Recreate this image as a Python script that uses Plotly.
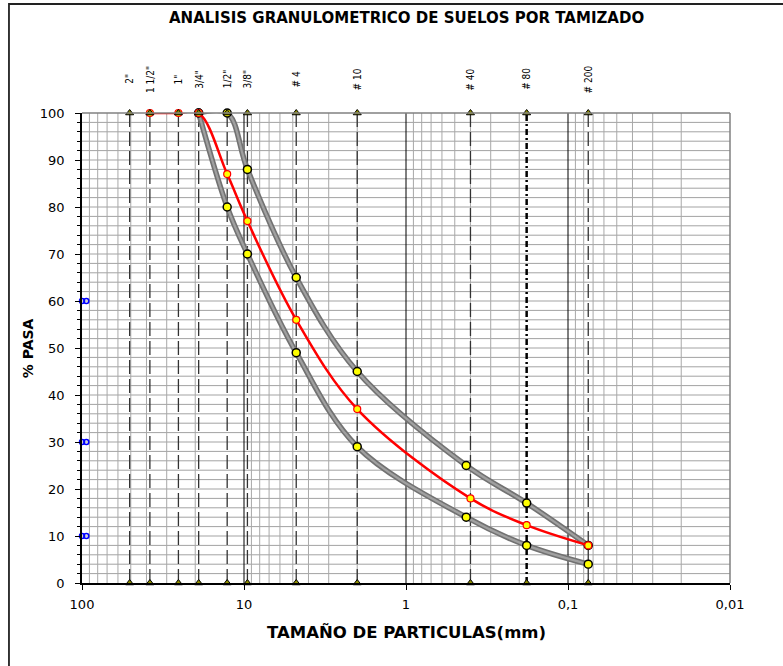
import math
import plotly.graph_objects as go

# Sieve designations and openings (mm)
sieve_labels = ['2"', '1 1/2"', '1"', '3/4"', '1/2"', '3/8"', '# 4', '# 10', '# 40', '# 80', '# 200']
sieve_mm = [50.8, 38.1, 25.4, 19.05, 12.7, 9.525, 4.76, 2.0, 0.40, 0.18, 0.075]

# Sample gradation (% passing)
sample_mm = [38.1, 25.4, 19.05, 12.7, 9.525, 4.76, 2.0, 0.40, 0.18, 0.075]
sample_pasa = [100, 100, 100, 87, 77, 56, 37, 18, 12.3, 8]

# Specification band (upper / lower limits)
band_mm = [19.05, 12.7, 9.525, 4.76, 2.0, 0.425, 0.18, 0.075]
band_upper = [100, 100, 88, 65, 45, 25, 17, 8]
band_lower = [100, 80, 70, 49, 29, 14, 8, 4]

# Reference marks on the % axis
ref_mm = [100, 94]
ref_pasa_a = [60, 60]
ref_pasa_b = [30, 30]
ref_pasa_c = [10, 10]

x_ticks = [100, 10, 1, 0.1, 0.01]
x_ticktext = ["100", "10", "1", "0,1", "0,01"]

FONT = "DejaVu Sans, sans-serif"
FONT_C = "DejaVu Sans Condensed, DejaVu Sans, sans-serif"
SMOOTH = 1.0

fig = go.Figure()

# Minor and major vertical grid
minor_x, minor_y, major_x, major_y = [], [], [], []
for d in [-2, -1, 0, 1]:
    for k in range(2, 10):
        v = k * 10 ** d
        minor_x += [v, v, None]
        minor_y += [0, 100, None]
for v in [10, 1, 0.1]:
    major_x += [v, v, None]
    major_y += [0, 100, None]

# Horizontal grid every 2 %
hx, hy = [], []
for p in range(2, 100, 2):
    hx += [100, 0.01, None]
    hy += [p, p, None]

fig.add_trace(go.Scatter(x=hx, y=hy, mode="lines", line=dict(color="#a3a3a3", width=1),
                         hoverinfo="skip", showlegend=False))
fig.add_trace(go.Scatter(x=minor_x, y=minor_y, mode="lines", line=dict(color="#a8a8a8", width=1),
                         hoverinfo="skip", showlegend=False))
fig.add_trace(go.Scatter(x=major_x, y=major_y, mode="lines", line=dict(color="#000000", width=1),
                         hoverinfo="skip", showlegend=False))

# Sieve reference lines
for lab, v in zip(sieve_labels, sieve_mm):
    if lab == "# 80":
        ln = dict(color="#000000", width=2.5, dash="6px,3px,2px,3px")
    else:
        ln = dict(color="#333333", width=1.3, dash="14px,5px")
    fig.add_trace(go.Scatter(x=[v, v], y=[0, 100], mode="lines", line=ln,
                             hoverinfo="skip", showlegend=False))

# Specification band curves
for ys in (band_upper, band_lower):
    fig.add_trace(go.Scatter(x=band_mm, y=ys, mode="lines",
                             line=dict(color="#727272", width=5.5, shape="spline", smoothing=SMOOTH),
                             showlegend=False, hoverinfo="skip", cliponaxis=False))
    fig.add_trace(go.Scatter(x=band_mm, y=ys, mode="lines+markers",
                             line=dict(color="#a0a0a0", width=2.2, shape="spline", smoothing=SMOOTH),
                             marker=dict(size=8, color="#ffff00", line=dict(color="#000000", width=1.5)),
                             showlegend=False, cliponaxis=False))

# Sample curve
fig.add_trace(go.Scatter(x=sample_mm, y=sample_pasa, mode="lines+markers",
                         line=dict(color="#ff0000", width=2.5, shape="spline", smoothing=SMOOTH),
                         marker=dict(size=7, color="#ffff00", line=dict(color="#ff0000", width=1.2)),
                         showlegend=False, cliponaxis=False))

# Sieve markers at top and bottom
fig.add_trace(go.Scatter(x=sieve_mm + sieve_mm, y=[100] * len(sieve_mm) + [0] * len(sieve_mm),
                         mode="markers",
                         marker=dict(symbol="triangle-up", size=7, color="#8f8f00",
                                     line=dict(color="#000000", width=1)),
                         showlegend=False, cliponaxis=False))

# Marks on the % axis
for ys in (ref_pasa_a, ref_pasa_b, ref_pasa_c):
    fig.add_trace(go.Scatter(x=ref_mm, y=ys, mode="markers",
                             marker=dict(symbol="circle-open", size=5, color="#0000ff",
                                         line=dict(color="#0000ff", width=1.5)),
                             showlegend=False, cliponaxis=False))

annotations = []
for lab, v in zip(sieve_labels, sieve_mm):
    annotations.append(dict(x=math.log10(v), y=1.072, xref="x", yref="paper", text=lab,
                            textangle=-90, showarrow=False, xanchor="center", yanchor="middle",
                            font=dict(family=FONT_C, size=10, color="#000000")))

annotations.append(dict(x=0.5, y=1.202, xref="paper", yref="paper",
                        text="<b>ANALISIS GRANULOMETRICO DE SUELOS POR TAMIZADO</b>",
                        showarrow=False, xanchor="center", yanchor="middle",
                        font=dict(family=FONT, size=15, color="#000000")))
annotations.append(dict(x=0.5, y=-0.105, xref="paper", yref="paper",
                        text="<b>TAMAÑO DE PARTICULAS(mm)</b>",
                        showarrow=False, xanchor="center", yanchor="middle",
                        font=dict(family=FONT, size=16.5, color="#000000")))
annotations.append(dict(x=-0.083, y=0.5, xref="paper", yref="paper",
                        text="<b>% PASA</b>", textangle=-90,
                        showarrow=False, xanchor="center", yanchor="middle",
                        font=dict(family=FONT, size=14, color="#000000")))

shapes = [
    # chart frame
    dict(type="rect", xref="paper", yref="paper", x0=-0.1127, y0=-0.3, x1=1.3, y1=1.2319,
         line=dict(color="#222222", width=1.8), layer="below"),
    # plot area top and right border
    dict(type="line", xref="paper", yref="paper", x0=0, y0=1, x1=1, y1=1,
         line=dict(color="#808080", width=1.5)),
    dict(type="line", xref="paper", yref="paper", x0=1, y0=0, x1=1, y1=1,
         line=dict(color="#808080", width=1.5)),
]

fig.update_layout(
    width=783, height=666,
    margin=dict(l=82, r=53, t=113, b=83),
    paper_bgcolor="#ffffff", plot_bgcolor="#ffffff",
    font=dict(family=FONT, size=12, color="#000000"),
    annotations=annotations, shapes=shapes,
    showlegend=False,
)
fig.update_xaxes(type="log", range=[2, -2], tickvals=x_ticks, ticktext=x_ticktext,
                 showgrid=False, zeroline=False, showline=True, linecolor="#000000", linewidth=1.5,
                 ticks="outside", ticklen=5, tickcolor="#000000", ticklabelstandoff=4,
                 tickfont=dict(family=FONT, size=13))
fig.update_yaxes(range=[0, 100], dtick=10, showgrid=False, zeroline=False,
                 showline=True, linecolor="#000000", linewidth=1.5,
                 ticks="outside", ticklen=5, tickcolor="#000000", ticklabelstandoff=8,
                 minor=dict(dtick=2, ticks="outside", ticklen=3, tickcolor="#000000"),
                 tickfont=dict(family=FONT, size=13))

fig.write_html("out.html")
